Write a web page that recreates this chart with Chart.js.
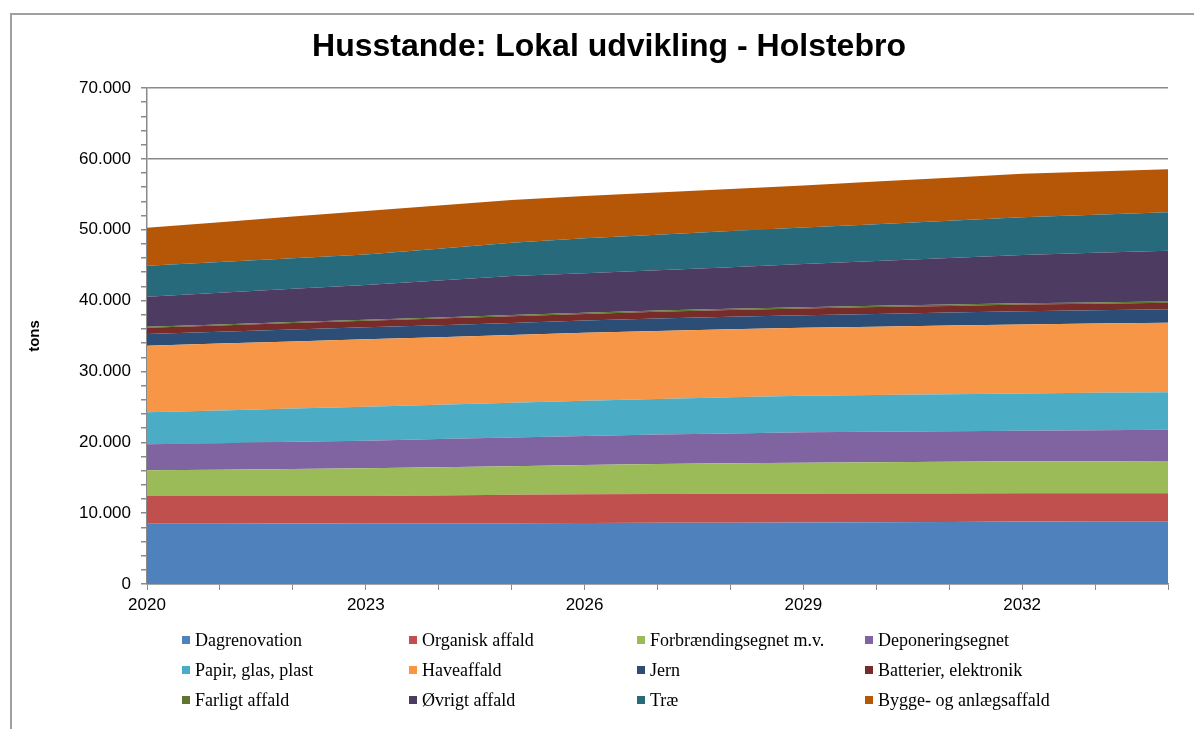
<!DOCTYPE html>
<html>
<head>
<meta charset="utf-8">
<script src="https://cdn.jsdelivr.net/npm/chart.js@4/dist/chart.umd.min.js"></script>
<style>
  html,body{margin:0;padding:0;background:#fff;}
  body{width:1194px;height:729px;position:relative;overflow:hidden;font-family:"Liberation Sans",Arial,sans-serif;}
  #frame{position:absolute;left:10px;top:13px;width:1200px;height:730px;border-top:2px solid #a0a0a0;border-left:2px solid #a0a0a0;}
  #chart{position:absolute;left:0;top:0;}
  #title{position:absolute;left:0;width:1218px;top:27px;text-align:center;font-weight:bold;font-size:32px;color:#000;}
  #legend{position:absolute;left:0;top:0;font-family:"Liberation Serif","Times New Roman",serif;font-size:18px;color:#000;}
  .li{position:absolute;white-space:nowrap;line-height:20px;}
  .li i{position:absolute;left:0;top:6px;width:8px;height:8px;}
  .li span{position:absolute;left:13px;top:0;}
</style>
</head>
<body>
<div id="frame"></div>
<canvas id="chart" width="1194" height="729"></canvas>
<div id="title">Husstande: Lokal udvikling - Holstebro</div>
<div id="legend"></div>
<script>
/* ===== Husstande: Lokal udvikling - Holstebro (stacked areas, tons) ===== */

const YEARS = ["2020","2021","2022","2023","2024","2025","2026","2027","2028","2029","2030","2031","2032","2033","2034"];

const DAGRENOVATION = [8500,8520,8540,8560,8570,8580,8600,8640,8660,8680,8720,8760,8820,8840,8860];
const ORGANISK      = [3920,3900,3880,3870,3930,4000,4050,4060,4060,4060,4040,4020,3970,3960,3940];
const FORBRAENDING  = [3630,3710,3800,3900,3980,4050,4140,4250,4320,4380,4430,4470,4520,4540,4560];
const DEPONERING    = [3660,3750,3840,3900,3970,4040,4100,4150,4210,4280,4290,4310,4330,4370,4420];
const PAPIR         = [4520,4610,4700,4790,4850,4910,4960,5000,5090,5170,5200,5230,5260,5270,5270];
const HAVEAFFALD    = [9400,9440,9480,9520,9540,9570,9600,9620,9610,9580,9640,9690,9740,9780,9830];
const JERN          = [1650,1660,1670,1680,1690,1700,1720,1740,1760,1780,1800,1820,1840,1860,1880];
const BATTERIER     = [890,900,910,920,930,940,950,960,960,960,960,950,950,940,940];
const FARLIGT       = [150,150,155,160,160,165,170,170,175,175,180,180,185,185,190];
const OVRIGT        = [4230,4460,4680,4900,5210,5520,5560,5690,5870,6080,6310,6570,6820,7000,7150];
const TRAE          = [4370,4350,4330,4300,4500,4700,4950,5020,5090,5160,5210,5260,5320,5360,5410];
const BYGGE         = [5360,5620,5880,6140,6090,6020,5950,5950,5950,5950,6020,6090,6150,6100,6070];

const SERIES = [
  ["Dagrenovation",           DAGRENOVATION, "#4F81BD"],
  ["Organisk affald",         ORGANISK,      "#C0504D"],
  ["Forbrændingsegnet m.v.",  FORBRAENDING,  "#9BBB59"],
  ["Deponeringsegnet",        DEPONERING,    "#8064A2"],
  ["Papir, glas, plast",      PAPIR,         "#4BACC6"],
  ["Haveaffald",              HAVEAFFALD,    "#F79646"],
  ["Jern",                    JERN,          "#2C4D75"],
  ["Batterier, elektronik",   BATTERIER,     "#772C2A"],
  ["Farligt affald",          FARLIGT,       "#5F7530"],
  ["Øvrigt affald",           OVRIGT,        "#4D3B62"],
  ["Træ",                     TRAE,          "#276A7C"],
  ["Bygge- og anlægsaffald",  BYGGE,         "#B65708"]
];

const Y_MAX = 70000, Y_MINOR = 2000, Y_MAJOR = 10000;
const AXIS = "#8a8a8a";

// danish thousands separator: 70.000
const FMT = v => String(v).replace(/\B(?=(\d{3})+(?!\d))/g, ".");

new Chart(document.getElementById("chart"), {
  type: "line",
  data: {
    labels: YEARS,
    datasets: SERIES.map(([name, data, color], i) => ({
      label: name, data,
      backgroundColor: color, borderColor: color, borderWidth: 0,
      pointRadius: 0, fill: i === 0 ? "origin" : "-1", tension: 0
    }))
  },
  options: {
    responsive: false, animation: false, devicePixelRatio: 1,
    layout: { padding: { left: 22, top: 88, right: 26, bottom: 0 } },
    plugins: { legend: { display: false }, tooltip: { enabled: false } },
    scales: {
      x: {
        offset: false,
        afterFit: s => { s.height = 729 - 584; },
        border: { color: AXIS, width: 1.5 },
        grid: { drawOnChartArea: false, color: AXIS, tickColor: AXIS, tickLength: 6 },
        ticks: {
          autoSkip: false, maxRotation: 0, padding: 5, color: "#000",
          font: { family: "Liberation Sans", size: 17 },
          callback: function(v, i){ return i % 3 === 0 ? this.getLabelForValue(v) : ""; }
        }
      },
      y: {
        stacked: true, min: 0, max: Y_MAX,
        afterFit: s => { s.width = 147 - 22; },
        border: { color: AXIS, width: 1.5 },
        grid: {
          color: c => c.tick && c.tick.value % Y_MAJOR === 0 ? AXIS : "transparent",
          lineWidth: 1.5, tickColor: AXIS, tickLength: 6
        },
        ticks: {
          stepSize: Y_MINOR, autoSkip: false, padding: 10, color: "#000",
          font: { family: "Liberation Sans", size: 17 },
          callback: v => v % Y_MAJOR === 0 ? FMT(v) : ""
        },
        title: {
          display: true, text: "tons", color: "#000",
          font: { family: "Liberation Sans", size: 15, weight: "bold" }
        }
      }
    }
  }
});

// legend: 4 columns x 3 rows, as in the original sheet
const LEG_COLS = [182, 409, 637, 865];
const LEG_ROWS = [640, 670, 700];
document.getElementById("legend").innerHTML = SERIES.map(([name, , color], i) => `
  <div class="li" style="left:${LEG_COLS[i % 4]}px;top:${LEG_ROWS[Math.floor(i / 4)] - 10}px">
    <i style="background:${color}"></i><span>${name}</span>
  </div>`).join("");
</script>
</body>
</html>
